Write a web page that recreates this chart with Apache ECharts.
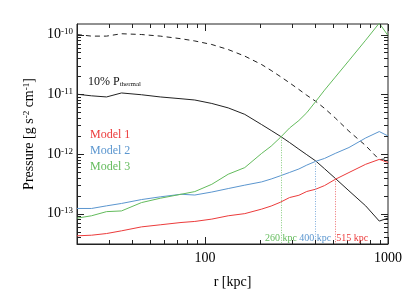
<!DOCTYPE html>
<html><head><meta charset="utf-8">
<script src="https://cdn.jsdelivr.net/npm/echarts@6/dist/echarts.min.js"></script>
<style>html,body{margin:0;padding:0;background:#fff}#c{width:411px;height:294px}</style>
</head><body><div id="c"></div>
<script>
// ---- data ----
const radius    = [20, 24, 29, 35, 45, 57, 74, 88, 109, 134, 165, 204, 230, 258, 290, 326, 360, 402, 450, 515, 612, 755, 896, 1000];
const pThermal  = [1.0e-10, 9.4e-11, 9.4e-11, 1.03e-10, 1.0e-10, 9.4e-11, 8.5e-11, 7.8e-11, 6.8e-11, 5.6e-11, 4.35e-11, 3.14e-11, 2.5e-11, 1.98e-11, 1.55e-11, 1.2e-11, 9.6e-12, 7.64e-12, 5.8e-12, 4.0e-12, 2.4e-12, 1.38e-12, 8.0e-13, 8.4e-13];
const pThermal10= [1.0e-11, 9.4e-12, 9.0e-12, 1.05e-11, 9.8e-12, 9.0e-12, 8.4e-12, 8.0e-12, 7.0e-12, 5.9e-12, 4.6e-12, 3.1e-12, 2.47e-12, 1.98e-12, 1.55e-12, 1.2e-12, 9.7e-13, 7.66e-13, 5.65e-13, 3.9e-13, 2.41e-13, 1.35e-13, 7.5e-14, 8.4e-14];
const model1    = [4.25e-14, 4.35e-14, 4.64e-14, 5.15e-14, 6.0e-14, 6.5e-14, 7.1e-14, 7.4e-14, 8.1e-14, 9.2e-14, 1.0e-13, 1.19e-13, 1.34e-13, 1.55e-13, 1.86e-13, 2.03e-13, 2.35e-13, 2.56e-13, 2.95e-13, 3.75e-13, 4.88e-13, 6.7e-13, 8.1e-13, 7.2e-13];
const model2    = [1.22e-13, 1.22e-13, 1.35e-13, 1.48e-13, 1.72e-13, 1.91e-13, 2.11e-13, 2.05e-13, 2.3e-13, 2.63e-13, 3.0e-13, 3.4e-13, 3.8e-13, 4.3e-13, 4.9e-13, 5.6e-13, 6.5e-13, 7.5e-13, 8.4e-13, 1.02e-12, 1.28e-12, 1.85e-12, 2.37e-12, 2.0e-12];
const model3    = [8.4e-14, 9.2e-14, 1.08e-13, 1.11e-13, 1.53e-13, 1.81e-13, 2.11e-13, 2.34e-13, 3.1e-13, 4.57e-13, 5.9e-13, 1.02e-12, 1.35e-12, 1.88e-12, 2.72e-12, 3.63e-12, 4.9e-12, 7.5e-12, 1.17e-11, 1.93e-11, 3.66e-11, 8.03e-11, 1.55e-10, 9.6e-11];
// crossing radius / pressure / label, per model (Model 1, Model 2, Model 3)
const crossR      = [515, 400, 260];
const crossP      = [3.85e-13, 7.6e-13, 1.9e-12];
const crossLabels = ['515 kpc', '400 kpc', '260 kpc'];
const modelNames  = ['Model 1', 'Model 2', 'Model 3'];
const xMajorTicks = [100, 1000];
const xMinorTicks = [20, 30, 40, 50, 60, 70, 80, 90, 200, 300, 400, 500, 600, 700, 800, 900];
const yMajorTicks = [1e-13, 1e-12, 1e-11, 1e-10];
const yMinorTicks = [4e-14, 5e-14, 6e-14, 7e-14, 8e-14, 9e-14,
                     2e-13, 3e-13, 4e-13, 5e-13, 6e-13, 7e-13, 8e-13, 9e-13,
                     2e-12, 3e-12, 4e-12, 5e-12, 6e-12, 7e-12, 8e-12, 9e-12,
                     2e-11, 3e-11, 4e-11, 5e-11, 6e-11, 7e-11, 8e-11, 9e-11];

// ---- styling ----
const FONT = 'Liberation Serif';
const AX = '#222';
const X_MIN = 20, X_MAX = 1000, Y_MIN = 3.1e-14, Y_MAX = 1.5e-10;
const LABEL_Y = 3.83e-14;
const MAJOR_LEN = 7, MINOR_LEN = 4;
const colors = ['#ec3b3b', '#5b96cf', '#63bb5c'];
const dotColors = ['#ee6f6f', '#7eaddb', '#84cb7d'];
const labelDx = [17, 0, 0];

function pairs(ys) { return radius.map((r, i) => [r, ys[i]]); }

const xTickData = xMajorTicks.map(v => [v, Y_MIN, 1]).concat(xMinorTicks.map(v => [v, Y_MIN, 0]));
const yTickData = yMajorTicks.map(v => [X_MIN, v, 1]).concat(yMinorTicks.map(v => [X_MIN, v, 0]));

function seg(x1, y1, x2, y2) {
  return { type: 'line', shape: { x1, y1, x2, y2 }, style: { stroke: AX, lineWidth: 1 } };
}

const tickSeries = [
  { type: 'custom', coordinateSystem: 'cartesian2d', silent: true, clip: false, z: 5,
    data: xTickData, encode: { x: 0, y: 1 },
    renderItem: (params, api) => {
      const v = api.value(0), len = api.value(2) ? MAJOR_LEN : MINOR_LEN;
      const b = api.coord([v, Y_MIN]), t = api.coord([v, Y_MAX]);
      const x = Math.round(b[0]) + 0.5;
      return { type: 'group', children: [seg(x, b[1], x, b[1] - len), seg(x, t[1], x, t[1] + len)] };
    } },
  { type: 'custom', coordinateSystem: 'cartesian2d', silent: true, clip: false, z: 5,
    data: yTickData, encode: { x: 0, y: 1 },
    renderItem: (params, api) => {
      const v = api.value(1), len = api.value(2) ? MAJOR_LEN : MINOR_LEN;
      const l = api.coord([X_MIN, v]), r = api.coord([X_MAX, v]);
      const y = Math.round(l[1]) + 0.5;
      return { type: 'group', children: [seg(l[0], y, l[0] + len, y), seg(r[0], y, r[0] - len, y)] };
    } }
];

const modelSeries = [model1, model2, model3].map((arr, i) => ({
  name: modelNames[i], type: 'line', data: pairs(arr), showSymbol: false, symbol: 'none',
  clip: true, z: 3,
  lineStyle: { color: colors[i], width: 1 }, itemStyle: { color: colors[i] },
  markLine: {
    silent: true, symbol: ['none', 'none'], label: { show: false },
    lineStyle: { type: [1, 1.5], color: dotColors[i], width: 1 },
    data: [[{ coord: [crossR[i], crossP[i]] }, { coord: [crossR[i], Y_MIN] }]]
  },
  markPoint: {
    silent: true, symbol: 'circle', symbolSize: 0,
    data: [{ coord: [crossR[i], LABEL_Y],
      label: { show: true, position: 'inside', offset: [labelDx[i], 0], formatter: crossLabels[i],
               color: colors[i], fontFamily: FONT, fontSize: 10 } }]
  }
}));

const option = {
  animation: false,
  backgroundColor: '#fff',
  grid: { left: 77, right: 23, top: 24, bottom: 50, containLabel: false,
          show: true, borderColor: AX, borderWidth: 1, backgroundColor: 'transparent' },
  title: {
    text: '10% P{sub|thermal}', left: 83, top: 70,
    textStyle: { fontFamily: FONT, fontSize: 12, fontWeight: 'normal', color: '#111',
      rich: { sub: { fontFamily: FONT, fontSize: 7, color: '#111', verticalAlign: 'bottom', padding: [6, 0, 0, 0] } } }
  },
  legend: {
    orient: 'vertical', left: 80, top: 124, itemWidth: 0, itemHeight: 0, itemGap: 4,
    selectedMode: false, icon: 'rect',
    textStyle: { fontFamily: FONT, fontSize: 12 },
    data: modelNames.map((n, i) => ({ name: n, textStyle: { color: colors[i] } }))
  },
  xAxis: [{
    type: 'log', logBase: 10, min: X_MIN, max: X_MAX, position: 'bottom',
    axisLine: { show: true, onZero: false, lineStyle: { color: AX, width: 1 } },
    axisTick: { show: false },
    axisLabel: { show: true, customValues: xMajorTicks, fontFamily: FONT, fontSize: 14, color: '#000', margin: 7,
      formatter: v => String(Math.round(v)) },
    splitLine: { show: false }, minorTick: { show: false },
    name: 'r [kpc]', nameLocation: 'middle', nameGap: 31,
    nameTextStyle: { fontFamily: FONT, fontSize: 14, color: '#000' }
  }],
  yAxis: [{
    type: 'log', logBase: 10, min: Y_MIN, max: Y_MAX, position: 'left',
    axisLine: { show: true, onZero: false, lineStyle: { color: AX, width: 1 } },
    axisTick: { show: false },
    axisLabel: { show: true, customValues: yMajorTicks, fontFamily: FONT, fontSize: 14, color: '#000', margin: 4,
      formatter: v => '10{sup|' + Math.round(Math.log10(v)) + '}',
      rich: { sup: { fontFamily: FONT, fontSize: 9, color: '#000', verticalAlign: 'top' } } },
    splitLine: { show: false }, minorTick: { show: false },
    name: 'Pressure [g s{sup|-2} cm{sup|-1}]', nameLocation: 'middle', nameGap: 38, nameRotate: 90,
    nameTextStyle: { fontFamily: FONT, fontSize: 14, color: '#000',
      rich: { sup: { fontFamily: FONT, fontSize: 9, color: '#000', verticalAlign: 'top' } } }
  }],
  series: [
    { name: 'P_thermal', type: 'line', data: pairs(pThermal), showSymbol: false, symbol: 'none', clip: true,
      lineStyle: { color: '#222', width: 1, type: [5, 4] } },
    { name: '10% P_thermal', type: 'line', data: pairs(pThermal10), showSymbol: false, symbol: 'none', clip: true,
      lineStyle: { color: '#222', width: 1 } }
  ].concat(modelSeries, tickSeries)
};

const chart = echarts.init(document.getElementById('c'), null, { renderer: 'canvas' });
chart.setOption(option);
</script>
</body></html>
